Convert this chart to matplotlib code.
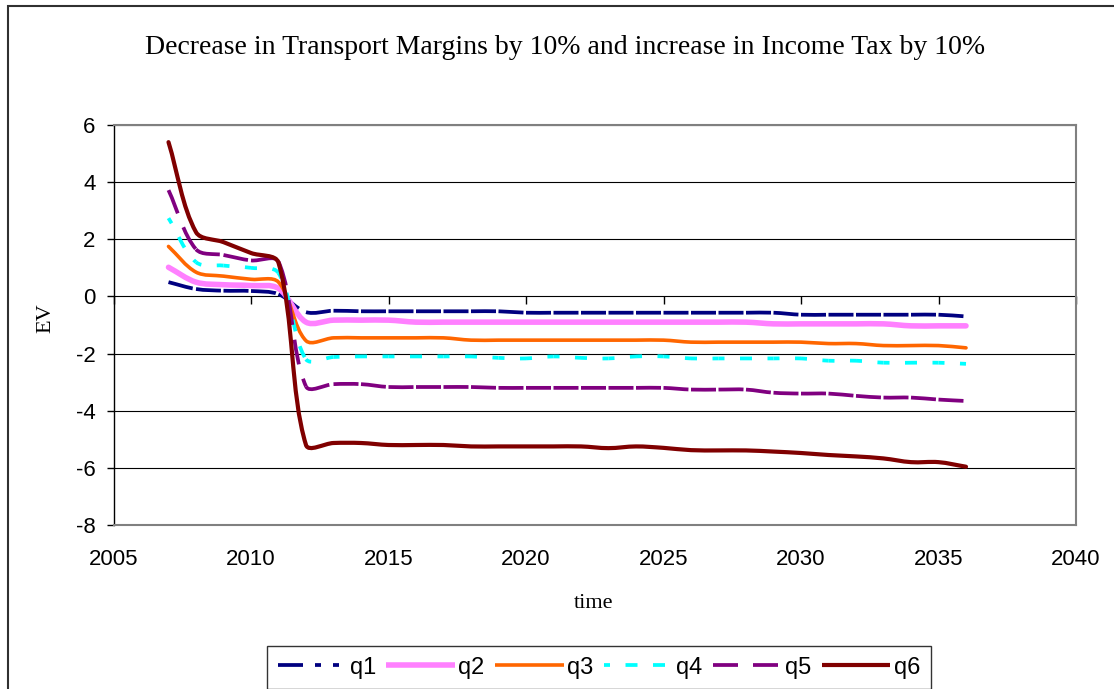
import matplotlib
matplotlib.use("Agg")
import matplotlib.pyplot as plt
import numpy as np
from matplotlib.path import Path
from matplotlib.patches import PathPatch, Rectangle
from matplotlib.lines import Line2D

plt.rcParams['lines.scale_dashes'] = False

# ---------------- data ----------------
years = list(range(2007, 2037))
q1 = [0.5, 0.26, 0.2, 0.19, 0.08, -0.55, -0.5,
      -0.52, -0.52, -0.52, -0.52, -0.52, -0.52,
      -0.57, -0.57, -0.57, -0.57, -0.57, -0.57, -0.57, -0.57, -0.57, -0.57,
      -0.64, -0.64, -0.64, -0.64, -0.64, -0.64, -0.7]
q2 = [1.02, 0.5, 0.41, 0.38, 0.28, -0.9,
      -0.83, -0.83, -0.83,
      -0.9, -0.9, -0.9, -0.9, -0.9, -0.9, -0.9, -0.9, -0.9, -0.9, -0.9, -0.9, -0.9,
      -0.96, -0.96, -0.96, -0.96, -0.96,
      -1.03, -1.03, -1.03]
q3 = [1.75, 0.85, 0.71, 0.6, 0.5, -1.55,
      -1.45, -1.45, -1.45, -1.45, -1.45,
      -1.53, -1.53, -1.53, -1.53, -1.53, -1.53, -1.53, -1.53,
      -1.6, -1.6, -1.6, -1.6, -1.6,
      -1.65, -1.65,
      -1.72, -1.72, -1.72,
      -1.8]
q4 = [2.74, 1.2, 1.08, 1.0, 0.82, -2.2,
      -2.12, -2.1, -2.1, -2.1, -2.1, -2.1,
      -2.15, -2.17, -2.1, -2.15, -2.17,
      -2.1, -2.1,
      -2.17, -2.17, -2.17, -2.17, -2.17,
      -2.25, -2.25,
      -2.32, -2.32, -2.32,
      -2.36]
q5 = [3.72, 1.65, 1.45, 1.26, 1.22, -3.15,
      -3.07, -3.07,
      -3.17, -3.17, -3.17, -3.17,
      -3.2, -3.2, -3.2, -3.2, -3.2, -3.2, -3.2,
      -3.26, -3.26, -3.26,
      -3.37, -3.4, -3.4, -3.48, -3.54, -3.54, -3.61, -3.66]
q6 = [5.4, 2.25, 1.9, 1.52, 1.18, -5.2,
      -5.13, -5.13,
      -5.2, -5.2, -5.2,
      -5.25, -5.25, -5.25, -5.25, -5.25,
      -5.31, -5.25, -5.3,
      -5.38, -5.39, -5.39,
      -5.43, -5.48, -5.55, -5.6, -5.67, -5.8, -5.8, -5.96]

series_names = ['q1', 'q2', 'q3', 'q4', 'q5', 'q6']
series_values = [q1, q2, q3, q4, q5, q6]

title = "Decrease in Transport Margins by 10% and increase in Income Tax by 10%"
x_ticks = [2005, 2010, 2015, 2020, 2025, 2030, 2035, 2040]
y_ticks = [-8, -6, -4, -2, 0, 2, 4, 6]

# ---------------- styles ----------------
PX = 72.0 / 100.0  # points per pixel at dpi 100
styles = {
    'q1': dict(color='#000080', lw=2.7,
               dash=(0, (25 * PX, 12 * PX, 6 * PX, 12 * PX, 6 * PX, 12 * PX))),
    'q2': dict(color='#FF80FF', lw=4.0, dash=None),
    'q3': dict(color='#FF6600', lw=2.6, dash=None),
    'q4': dict(color='#00FFFF', lw=2.7,
               dash=(6 * PX, (12 * PX, 15.5 * PX))),
    'q5': dict(color='#800080', lw=2.7, dash=(0, (25 * PX, 15 * PX))),
    'q6': dict(color='#800000', lw=3.0, dash=None),
}

SANS = 'Liberation Sans'
SERIF = 'Liberation Serif'

W, H = 1114, 689
fig = plt.figure(figsize=(W / 100, H / 100), dpi=100)
fig.patch.set_facecolor('white')

# outer chart border
fig.patches.append(Rectangle((8.3 / W, -0.2), 1.2, 1 - 6 / H + 0.2,
                             transform=fig.transFigure, fill=False,
                             edgecolor='#303030', linewidth=1.5, zorder=0))

left, right, top, bottom = 113.5, 1076, 125, 525
ax = fig.add_axes([left / W, 1 - bottom / H, (right - left) / W, (bottom - top) / H])
ax.set_xlim(2005, 2040)
ax.set_ylim(-8, 6)
ax.set_facecolor('white')
ax.set_axisbelow(True)

ax.set_xticks(x_ticks)
ax.set_xticklabels([str(t) for t in x_ticks], fontfamily=SANS, fontsize=16)
ax.set_yticks(y_ticks)
ax.set_yticklabels([str(t) for t in y_ticks], fontfamily=SANS, fontsize=16)
ax.tick_params(axis='x', length=0, pad=17)
ax.tick_params(axis='y', direction='out', length=5, width=1, pad=8, color='black')
ax.yaxis.grid(True, color='black', linewidth=0.8)
ax.xaxis.grid(False)

for s in ['top', 'right', 'bottom']:
    ax.spines[s].set_color('#808080')
    ax.spines[s].set_linewidth(1.5)
ax.spines['left'].set_color('black')
ax.spines['left'].set_linewidth(1.0)

# x-axis ticks sitting on the zero line (Excel axis crossing at 0)
secx = ax.secondary_xaxis(8 / 14)
secx.set_xticks(x_ticks)
secx.tick_params(axis='x', direction='in', length=5.5, width=1, color='black',
                 labeltop=False, labelbottom=False, top=True, bottom=False)
for s in secx.spines.values():
    s.set_visible(False)


def smoothed_segments(xs, ys):
    pts = np.column_stack([xs, ys]).astype(float)
    disp = ax.transData.transform(pts)
    n = len(pts)
    L = np.hypot(*np.diff(disp, axis=0).T)
    segs = []
    for i in range(n - 1):
        p0, p1 = pts[i], pts[i + 1]
        if i == 0:
            c1 = p0 + (p1 - p0) / 3.0
        else:
            c1 = p0 + (pts[i + 1] - pts[i - 1]) * L[i] / (L[i - 1] + L[i]) / 3.0
        if i == n - 2:
            c2 = p1 - (p1 - p0) / 3.0
        else:
            c2 = p1 - (pts[i + 2] - pts[i]) * L[i] / (L[i] + L[i + 1]) / 3.0
        segs.append([p0, c1, c2, p1])
    return segs


handles = []
for name, vals in zip(series_names, series_values):
    st = styles[name]
    segs = smoothed_segments(years, vals)
    if st['dash'] is None:
        verts = [segs[0][0]]
        codes = [Path.MOVETO]
        for sg in segs:
            verts += [sg[1], sg[2], sg[3]]
            codes += [Path.CURVE4] * 3
        ax.add_patch(PathPatch(Path(verts, codes), fill=False, edgecolor=st['color'],
                               linewidth=st['lw'], capstyle='round',
                               joinstyle='round', zorder=3))
        h = Line2D([], [], color=st['color'], linewidth=st['lw'],
                   solid_capstyle='butt')
    else:
        for sg in segs:
            p = Path(sg, [Path.MOVETO, Path.CURVE4, Path.CURVE4, Path.CURVE4])
            ax.add_patch(PathPatch(p, fill=False, edgecolor=st['color'],
                                   linewidth=st['lw'], linestyle=st['dash'],
                                   capstyle='butt', joinstyle='round', zorder=3))
        h = Line2D([], [], color=st['color'], linewidth=st['lw'],
                   linestyle=st['dash'], dash_capstyle='butt')
    handles.append(h)

# texts
fig.text(565 / W, 1 - 48 / H, title, fontfamily=SERIF, fontsize=20,
         ha='center', va='center')
fig.text(46 / W, 1 - 318 / H, 'EV', fontfamily=SERIF, fontsize=16,
         rotation=90, ha='center', va='center')
fig.text(594 / W, 1 - 603 / H, 'time', fontfamily=SERIF, fontsize=16,
         ha='center', va='center')

leg = fig.legend(handles, series_names, loc='upper center', ncol=6,
                 bbox_to_anchor=(599 / W, 1 - 646 / H),
                 bbox_transform=fig.transFigure,
                 prop={'family': SANS, 'size': 17},
                 frameon=True, fancybox=False, shadow=False,
                 handlelength=2.9, handletextpad=0.15, columnspacing=0.45,
                 borderpad=0.45, borderaxespad=0)
leg.get_frame().set_edgecolor('black')
leg.get_frame().set_linewidth(1.0)

fig.savefig('out.png', dpi=100, facecolor='white')
